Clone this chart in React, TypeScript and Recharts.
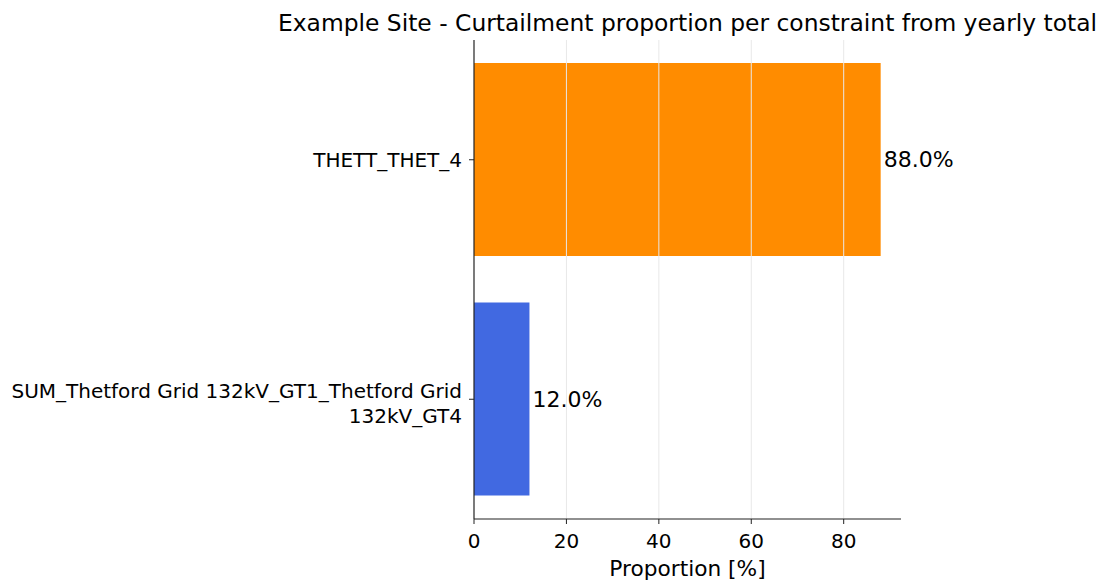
import {
  BarChart, Bar, XAxis, YAxis, Cell, LabelList, ReferenceLine,
} from "recharts";

// ─── Data ─────────────────────────────────────────────────────────────────────
const constraints = [
  "THETT_THET_4",
  "SUM_Thetford Grid 132kV_GT1_Thetford Grid 132kV_GT4",
];
const proportions = [88.0, 12.0];
const barColors = ["#FF8C00", "#4169E1"];
const xTicks = [0, 20, 40, 60, 80];
const gridLines = [20, 40, 60, 80];

const TITLE = "Example Site - Curtailment proportion per constraint from yearly total";
const X_LABEL = "Proportion [%]";

const FONT = "'DejaVu Sans', sans-serif";
const W = 1099;
const H = 580;
const M = { top: 40, right: 198, bottom: 0, left: 0 };
const X_AXIS_H = 61;
const Y_AXIS_W = 474;

const data = constraints.map((name, i) => ({ name, value: proportions[i] }));

// simple textwrap, like python's textwrap.fill
function wrap(text: string, width: number) {
  const words = text.split(" ");
  const lines: string[] = [];
  let cur = "";
  for (const w of words) {
    const next = cur ? cur + " " + w : w;
    if (next.length > width && cur) {
      lines.push(cur);
      cur = w;
    } else cur = next;
  }
  if (cur) lines.push(cur);
  return lines;
}

function YTick({ x, y, payload }: any) {
  const lines = wrap(String(payload.value), 42);
  const lh = 25;
  // multi-line labels sit a touch lower (matplotlib centres the whole bbox)
  const start = -((lines.length - 1) * lh) / 2 + (lines.length > 1 ? 4 : 0);
  return (
    <g>
      <line x1={Y_AXIS_W - 5} x2={Y_AXIS_W} y1={y} y2={y} stroke="#222" strokeWidth={1} />
      <text x={x - 4} y={y + start} textAnchor="end" dominantBaseline="central"
        fontSize={20} fill="#000" fontFamily={FONT}>
        {lines.map((l, i) => (
          <tspan key={i} x={x - 4} dy={i === 0 ? 0 : lh}>{l}</tspan>
        ))}
      </text>
    </g>
  );
}

export default function App() {
  const plotCenter = M.left + Y_AXIS_W + (W - M.right - Y_AXIS_W - M.left) / 2;
  return (
    <div style={{ width: W, height: H, position: "relative", background: "#fff" }}>
      <style>{`body{margin:0}`}</style>
      <BarChart
        width={W}
        height={H}
        data={data}
        layout="vertical"
        margin={M}
        style={{ fontFamily: FONT }}
      >
        <XAxis
          type="number"
          domain={[0, 92.4]}
          ticks={xTicks}
          allowDataOverflow
          axisLine={{ stroke: "#222", strokeWidth: 1.2 }}
          tickLine={{ stroke: "#222" }}
          tickSize={5}
          tick={{ fontSize: 20, fill: "#000", fontFamily: FONT, dy: 8 }}
          height={X_AXIS_H}
          label={{ value: X_LABEL, position: "insideBottom", offset: 4, fontSize: 21.7, fill: "#000", fontFamily: FONT }}
        />
        <YAxis
          type="category"
          dataKey="name"
          width={Y_AXIS_W}
          axisLine={{ stroke: "#222", strokeWidth: 1.2 }}
          tickLine={false}
          tick={<YTick />}
          interval={0}
        />
        <Bar dataKey="value" barSize={193} isAnimationActive={false}>
          {data.map((d, i) => (
            <Cell key={d.name} fill={barColors[i]} />
          ))}
          <LabelList
            dataKey="value"
            position="right"
            offset={3}
            formatter={(v: any) => `${Number(v).toFixed(1)}%`}
            style={{ fontSize: 22, fill: "#000", fontFamily: FONT }}
          />
        </Bar>
        {gridLines.map((g) => (
          <ReferenceLine key={g} x={g} stroke="#e8e8e8" strokeWidth={1} ifOverflow="hidden" />
        ))}
      </BarChart>
      <div
        style={{
          position: "absolute", top: 9, left: plotCenter, transform: "translateX(-50%)",
          fontFamily: FONT, fontSize: 23.4, whiteSpace: "nowrap", color: "#000",
        }}
      >
        {TITLE}
      </div>
    </div>
  );
}
